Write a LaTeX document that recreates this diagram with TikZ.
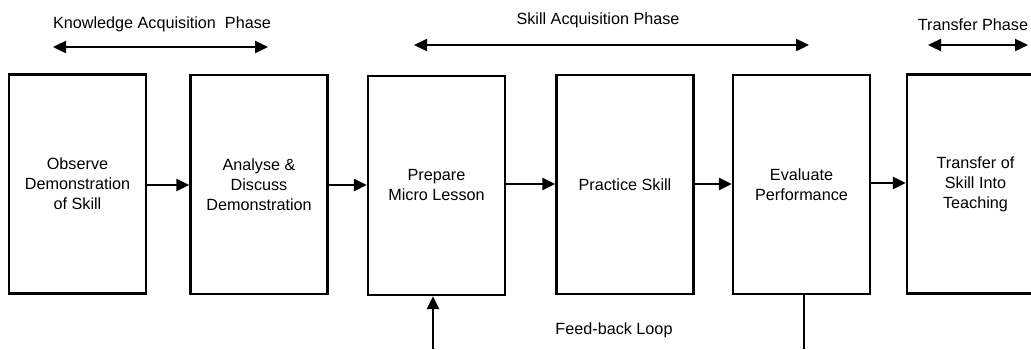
\documentclass[tikz,border=0pt]{standalone}
\usepackage{fontspec}
\setmainfont{Liberation Sans}
\usetikzlibrary{arrows.meta}
\begin{document}
\begin{tikzpicture}[x=1pt,y=-1pt,
  box/.style={draw,line width=2.4pt,minimum width=137pt,minimum height=219pt,inner sep=0pt,align=center,font=\fontsize{16.2}{20}\selectfont},
  lbl/.style={font=\fontsize{16.2}{20}\selectfont,inner sep=0pt},
  conn/.style={line width=2.4pt,-{Triangle[length=13pt,width=12pt]}},
  dbl/.style={line width=2.4pt,{Triangle[length=13pt,width=12pt]}-{Triangle[length=13pt,width=12pt]}}]
\useasboundingbox (0,0) rectangle (1031,349);
\begin{scope}
\clip (0,0) rectangle (1031,349);
\node[box] (b1) at (77.5,184) {Observe\\Demonstration\\of Skill};
\node[box] (b2) at (259,184.5) {Analyse \&\\Discuss\\Demonstration};
\node[box] (b3) at (436.5,185.5) {Prepare\\Micro Lesson};
\node[box] (b4) at (625,184.5) {Practice Skill};
\node[box] (b5) at (801.5,184.5) {Evaluate\\Performance};
\node[box] (b6) at (975.5,184) {Transfer of\\Skill Into\\Teaching};
\end{scope}
\draw[conn] (b1.east |- 0,185) -- (b2.west |- 0,185);
\draw[conn] (b2.east |- 0,185) -- (b3.west |- 0,185);
\draw[conn] (b3.east |- 0,184) -- (b4.west |- 0,184);
\draw[conn] (b4.east |- 0,184) -- (b5.west |- 0,184);
\draw[conn] (b5.east |- 0,183) -- (b6.west |- 0,183);
% phases
\coordinate (k1) at (53,47); \coordinate (k2) at (268,47);
\draw[dbl] (k1) -- (k2);
\node[lbl] (kl) at (162,24) {Knowledge Acquisition\ \ Phase};
\coordinate (s1) at (414,45); \coordinate (s2) at (809,45);
\draw[dbl] (s1) -- (s2);
\node[lbl] (sl) at (598,20) {Skill Acquisition Phase};
\coordinate (t1) at (928,45); \coordinate (t2) at (1028,45);
\draw[dbl] (t1) -- (t2);
\node[lbl] (tl) at (973,25) {Transfer Phase};
% feedback
\coordinate (f1) at (433,349);
\draw[conn] (f1) -- (b3.south -| f1);
\coordinate (f2) at (804,349);
\draw[line width=2.4pt] (b5.south -| f2) -- (f2);
\node[lbl] (fl) at (614,330) {Feed-back Loop};
\end{tikzpicture}
\end{document}
